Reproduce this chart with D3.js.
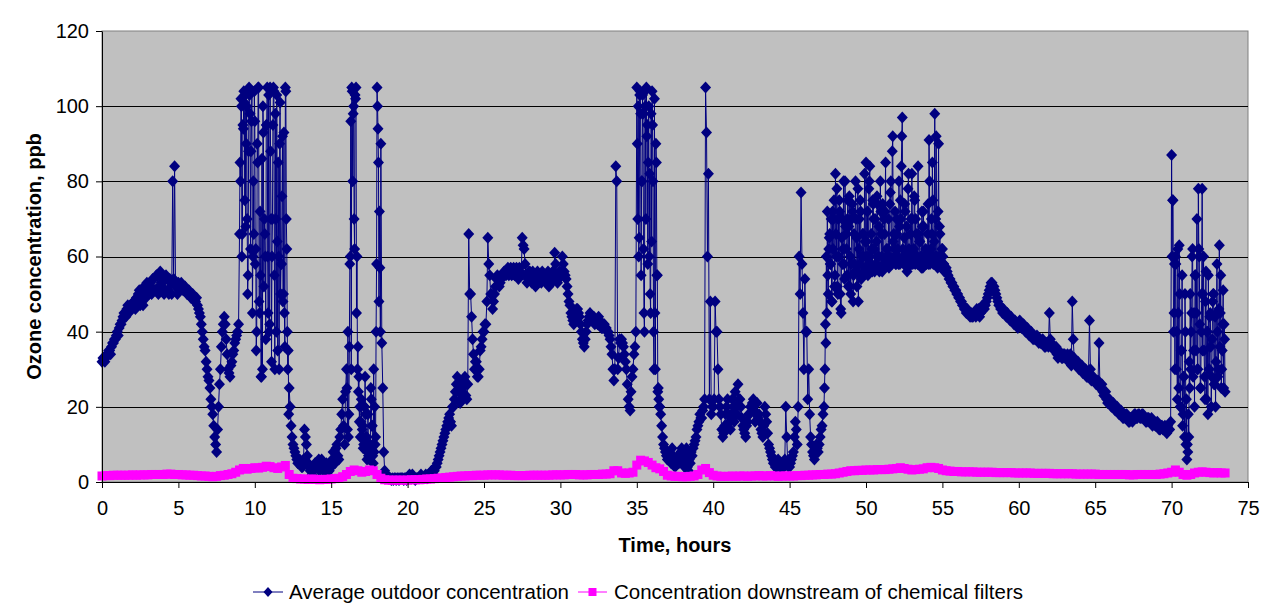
<!DOCTYPE html>
<html><head><meta charset="utf-8">
<script src="https://cdn.jsdelivr.net/npm/d3@7"></script>
<style>body{margin:0;background:#fff;} text{font-family:Arial,"Liberation Sans",sans-serif;}</style>
</head><body><svg id="c" width="1276" height="615"></svg>
<script>
// ---- data ----
const xTicks = [0,5,10,15,20,25,30,35,40,45,50,55,60,65,70,75];
const yTicks = [0,20,40,60,80,100,120];
const seriesNames = ["Average outdoor concentration","Concentration downstream of chemical filters"];
// outdoor ozone, readings every 0.125 h starting at t = 0 ...
const outdoorStep = 0.125;
const outdoorValues = [
32,33,33,34,35,36,37,38,
40,41,42,44,45,46,45,47,
47,48,49,50,47,51,52,49,
52,53,50,54,51,55,52,53,
54,51,54,50,53,80,84,52,
53,52,52,51,51,50,50,49,
49,48,47,45,42,38,35,30,
27,22,18,12,8,20,30,40,
44,38,30,28,32,35,38,40,
66,100,94,103,70,105,88,60,
96,40,105,55,30,70,95,45,
105,60,104,70,35,90,58,50,
105,40,25,15,10,8,6,5,
5,4,14,10,5,3,2,4,
5,4,3,6,5,4,2,3,
4,8,5,10,6,14,22,10,
30,12,60,104,70,105,36,20,
12,10,18,8,6,22,5,10,
105,48,90,25,3,2,1,1,
1,1,0.5,1,1,1,0.5,1,
1,2,1,1,0.5,1,1,2,
1,1,1,2,2,3,3,4,
6,8,10,12,14,16,18,15,
20,24,28,26,22,25,28,22,
66,50,38,30,32,28,35,38,
40,42,65,55,50,48,52,55,
52,54,55,56,56,55,57,56,
55,57,54,56,65,62,55,54,
56,53,55,52,56,54,53,55,
55,54,52,55,56,61,55,54,
55,60,56,54,50,47,44,42,
44,46,44,40,37,38,42,44,
44,43,42,43,44,42,41,42,
41,40,38,34,27,84,30,38,
38,36,32,26,20,24,30,36,
105,60,98,103,40,105,85,50,
104,30,90,24,20,15,10,8,
6,8,5,7,4,6,5,8,
6,4,9,3,5,7,10,12,
15,18,17,20,105,60,22,18,
20,48,40,22,18,12,15,20,
18,14,22,16,20,26,22,17,
14,12,16,18,20,22,16,21,
18,14,12,20,16,10,8,6,
5,4,6,3,5,4,20,5,
4,6,8,16,10,60,77,45,
54,40,30,12,8,6,10,8,
12,15,20,37,55,66,48,70,
82,52,75,45,62,80,55,68,
50,72,58,65,48,75,60,56,
85,55,84,62,70,58,74,56,
66,58,72,60,57,80,92,62,
70,58,75,97,65,60,78,58,
82,62,70,58,64,57,72,58,
60,91,62,75,98,60,90,58,
62,56,57,55,54,53,52,51,
50,49,48,47,46,46,45,45,
44,45,46,46,45,47,46,48,
50,52,53,52,50,48,47,46,
46,45,45,44,44,43,43,42,
42,42,41,41,40,40,39,39,
39,38,38,38,37,37,36,37,
45,37,36,35,34,35,34,33,
34,33,32,34,48,33,31,32,
30,31,29,30,28,43,27,28,
27,26,37,25,24,23,22,21,
21,20,20,19,19,18,18,17,
17,17,16,17,17,18,17,18,
17,18,17,16,17,16,15,16,
15,15,14,15,14,14,15,14,
87,40,60,22,63,35,18,50,
6,12,30,62,20,45,78,25,
78,35,56,18,44,28,50,20,
40,63,25,51,24
];
// ... the interleaved readings half a step later (t = 0.0625 + i * 0.125) ...
const outdoorOffset = 0.0625;
const outdoorValuesB = [
33,32,34,35,34,37,38,39,
39,42,43,45,44,47,46,46,
48,46,48,51,49,47,51,53,
50,52,54,51,55,50,56,52,
50,55,51,54,50,54,52,50,
52,53,51,52,50,51,49,50,
48,49,46,44,40,36,32,28,
25,20,15,10,14,26,36,42,
42,34,29,31,34,37,39,42,
80,66,101,90,55,98,104,66,
62,85,45,28,93,60,105,40,
70,95,30,103,60,50,92,45,
70,35,20,12,9,7,5,6,
4,6,12,7,4,3,3,5,
4,6,4,5,3,5,3,4,
6,5,9,7,12,18,15,24,
14,36,30,98,103,60,28,16,
15,20,12,7,10,15,8,40,
94,57,37,8,2,1,1,0.5,
0.5,1,1,0.5,1,1,1,0.5,
1,1,2,1,1,1,1,1,
1,2,1,2,3,2,4,5,
7,9,11,13,15,17,16,20,
22,26,24,21,24,27,23,26,
50,44,34,32,28,30,36,40,
42,48,58,50,46,50,54,54,
53,55,56,55,57,56,55,57,
56,55,57,55,63,58,53,56,
54,56,53,55,53,55,56,54,
53,56,54,53,55,58,53,56,
56,58,55,52,48,45,43,43,
46,45,42,38,36,40,43,45,
43,44,43,42,43,41,42,41,
40,39,36,30,30,80,33,37,
37,34,30,22,19,28,34,40,
70,103,80,62,100,95,60,98,
80,45,55,22,18,12,9,7,
7,6,9,6,5,7,6,9,
5,7,4,6,8,9,11,14,
16,17,19,22,93,82,48,20,
22,40,30,20,14,13,18,22,
16,18,20,24,18,22,20,15,
13,15,18,20,21,19,18,17,
16,13,15,18,13,9,7,5,
4,5,4,4,4,6,12,4,
5,7,12,14,20,50,58,30,
40,22,18,10,7,8,9,10,
14,18,30,45,62,58,72,52,
60,70,50,70,58,66,75,52,
70,55,80,56,70,54,66,64,
60,78,58,75,56,64,60,80,
56,70,60,62,74,58,66,58,
62,68,84,60,72,56,62,70,
58,75,60,66,58,68,60,60,
74,58,66,60,70,57,68,60,
58,57,56,54,53,52,51,50,
49,48,47,46,45,45,44,44,
45,44,45,44,46,46,47,49,
51,53,52,51,49,47,46,45,
45,44,44,43,43,42,42,41,
43,41,42,40,41,39,40,38,
38,39,37,37,38,36,37,36,
38,36,35,36,33,34,33,34,
33,34,33,31,38,32,32,30,
31,29,30,28,29,30,28,27,
26,27,25,26,23,24,21,22,
20,21,19,20,18,19,17,18,
18,16,17,16,18,17,18,17,
18,17,16,17,16,17,16,15,
16,14,15,14,15,13,14,16,
75,58,30,45,20,55,28,10,
8,25,45,35,55,30,60,40,
50,22,40,30,36,48,26,45,
30,45,35,42
];
// ... and extra readings during the gusty periods (every 0.0625 h, between the readings above)
const burstStep = 0.0625;
const burst1Start = 9.03125;
const burst1Values = [
85,102,60,95,104,75,68,100, 50,88,103,62,96,45,80,104,
58,35,90,105,48,72,28,86, 100,52,66,38,95,60,103,42,
88,32,70,105,55,98,40,64, 85,30,101,58,76,48,93,36,
104,62,30,18
];
const burst2Start = 16.03125;
const burst2Values = [
25,40,18,58,96,105,80,100, 62,102,45,30,24,16,12,22,
14,9,20,28,12,6,18,10, 8,25,15,7,30,20,12,58,
100,85,72,40
];
const burst3Start = 35.03125;
const burst3Values = [
90,100,65,104,55,80,98,45, 104,70,92,58,100,82,45,64,
95,40,102,30,85,55,25,20
];
const burst4Start = 47.28125;
const burst4Values = [
25,42,60,72,50,65,58,70,48,62,75,55,
66,78,50,60,72,46,65,58,80,54,68,62,70,52,76,60,
58,74,48,66,56,70,52,78,62,58,72,55,66,60,82,57,
64,72,58,80,60,66,56,74,62,70,58,76,60,68,57,72,
60,74,57,66,85,62,58,70,60,77,58,88,64,60,72,58,
66,60,80,58,70,92,62,58,74,60,68,57,82,60,66,58,
70,60,76,58,66,60,84,58,64,60,72,57,68,60,62,58,
66,58,80,60,70,85,58,64,60,92,58,72,60,66,58,62,
60,58,57,56
];
const burst5Start = 70.03125;
const burst5Values = [
60,75,45,30,58,40,62,25,50,20,35,15,28,12,40,22,
10,18,32,50,40,60,28,45,55,35,70,30,62,42,25,50,
35,60,28,48,22,40,55,30,45,20,38,50,26,44,32,58,
28,46,36,55,30,42,25,38
];
// downstream of chemical filters, one reading every 0.25 h starting at t = 0
const filterStep = 0.25;
const filterValues = [
1.6,1.7,1.7,1.8, 1.8,1.8,1.8,1.8, 1.9,1.8,1.9,1.9, 1.9,2.0,2.0,2.0,
2.0,2.1,2.1,2.0, 2.0,1.9,1.9,1.8, 1.8,1.7,1.6,1.6, 1.5,1.4,1.5,1.7,
1.8,2.0,2.2,2.6, 3.2,3.6,3.4,3.6, 3.8,3.7,3.9,4.2, 4.1,3.8,3.6,4.0,
4.4,2.0,1.0,0.9, 0.8,0.8,0.7,0.8, 0.7,0.6,0.7,0.7, 0.8,0.9,1.0,1.4,
2.0,2.8,3.2,3.0, 2.6,2.8,3.2,3.0, 2.0,1.0,0.6,0.5, 0.5,0.5,0.5,0.5,
0.5,0.6,0.6,0.6, 0.7,0.8,0.8,0.9, 1.0,1.1,1.2,1.3, 1.4,1.5,1.6,1.6,
1.7,1.7,1.8,1.8, 1.8,1.9,1.9,1.9, 1.9,1.8,1.8,1.8, 1.7,1.7,1.7,1.7,
1.8,1.8,1.8,1.8, 1.8,1.8,1.9,1.9, 1.9,1.9,2.0,2.0, 2.0,1.9,1.9,1.9,
2.0,2.0,2.0,2.1, 2.1,2.2,3.0,3.0, 2.4,2.3,2.4,2.6, 4.5,5.8,5.6,5.2,
4.5,3.8,3.5,2.8, 1.8,1.6,1.5,1.5, 1.4,1.4,1.5,1.6, 2.0,3.2,3.6,2.5,
1.8,1.6,1.5,1.5, 1.5,1.6,1.5,1.6, 1.6,1.5,1.6,1.6, 1.7,1.6,1.6,1.7,
1.6,1.5,1.6,1.6, 1.6,1.6,1.7,1.7, 1.8,1.8,1.9,1.9, 2.0,2.0,2.1,2.1,
2.2,2.4,2.6,2.8, 3.0,3.0,3.1,3.1, 3.2,3.2,3.2,3.3, 3.3,3.3,3.4,3.5,
3.6,3.8,3.6,3.4, 3.2,3.3,3.4,3.5, 3.8,3.9,3.8,3.6, 3.2,3.0,2.9,2.8,
2.8,2.7,2.7,2.7, 2.7,2.6,2.6,2.6, 2.6,2.6,2.5,2.5, 2.5,2.5,2.5,2.4,
2.4,2.4,2.4,2.4, 2.3,2.3,2.3,2.3, 2.3,2.2,2.2,2.2, 2.2,2.2,2.2,2.1,
2.1,2.1,2.1,2.1, 2.1,2.0,2.0,2.0, 2.0,2.0,2.0,2.0, 2.0,1.9,1.9,2.0,
2.0,2.0,2.0,2.0, 2.0,2.1,2.2,2.4, 2.6,3.2,2.6,2.0, 1.8,2.0,2.4,2.6,
2.7,2.6,2.5,2.4, 2.5,2.4,2.4
];

// ---- chart ----
const svg = d3.select("#c");
const L = 102, R = 1248, T = 31, B = 482;
const x = d3.scaleLinear().domain([0,75]).range([L,R]);
const y = d3.scaleLinear().domain([0,120]).range([B,T]);
const navy = "#000080", pink = "#FF00FF";

svg.append("rect").attr("x",L).attr("y",T).attr("width",R-L).attr("height",B-T)
  .attr("fill","#C0C0C0").attr("stroke","#808080").attr("stroke-width",1);

svg.append("g").selectAll("line").data(yTicks.filter(v=>v>0 && v<120)).join("line")
  .attr("x1",L).attr("x2",R).attr("y1",d=>Math.round(y(d))+0.5).attr("y2",d=>Math.round(y(d))+0.5)
  .attr("stroke","#000").attr("stroke-width",1);

const toPts = (vals, start, step) => vals.map((v,i)=>({t:start+i*step, v}));
const outdoor = [].concat(
  toPts(outdoorValues, 0, outdoorStep),
  toPts(outdoorValuesB, outdoorOffset, outdoorStep),
  toPts(burst1Values, burst1Start, burstStep),
  toPts(burst2Values, burst2Start, burstStep),
  toPts(burst3Values, burst3Start, burstStep),
  toPts(burst4Values, burst4Start, burstStep),
  toPts(burst5Values, burst5Start, burstStep)
).sort((a,b)=>a.t-b.t);
const filt = toPts(filterValues, 0, filterStep);
const line = d3.line().x(d=>x(d.t)).y(d=>y(d.v));
const diamond = "M0,-6L5.5,0L0,6L-5.5,0Z";

svg.append("path").datum(outdoor).attr("d",line).attr("fill","none").attr("stroke",navy).attr("stroke-width",1);
svg.append("g").selectAll("path").data(outdoor).join("path")
  .attr("d",diamond).attr("transform",d=>`translate(${x(d.t)},${y(d.v)})`).attr("fill",navy);

svg.append("path").datum(filt).attr("d",line).attr("fill","none").attr("stroke",pink).attr("stroke-width",1);
svg.append("g").selectAll("rect").data(filt).join("rect")
  .attr("x",d=>x(d.t)-4.5).attr("y",d=>y(d.v)-4.5).attr("width",9).attr("height",9).attr("fill",pink);

// axes
const yAxis = svg.append("g").attr("transform",`translate(${L},0)`)
  .call(d3.axisLeft(y).tickValues(yTicks).tickFormat(d3.format("d")).tickSize(6).tickSizeOuter(0).tickPadding(7));
const xAxis = svg.append("g").attr("transform",`translate(0,${B})`)
  .call(d3.axisBottom(x).tickValues(xTicks).tickFormat(d3.format("d")).tickSize(6).tickSizeOuter(0).tickPadding(13));
[xAxis,yAxis].forEach(g=>{
  g.selectAll("text").attr("font-size",20).attr("fill","#000").attr("font-family","Arial, 'Liberation Sans', sans-serif");
  g.selectAll("line").attr("stroke","#000");
  g.select(".domain").attr("stroke","#000");
});

// titles
svg.append("text").attr("x",(L+R)/2).attr("y",552).attr("text-anchor","middle")
  .attr("font-size",20).attr("font-weight","bold").text("Time, hours");
svg.append("text").attr("transform",`translate(41,${(T+B)/2}) rotate(-90)`).attr("text-anchor","middle")
  .attr("font-size",20).attr("font-weight","bold").text("Ozone concentration, ppb");

// legend
const ly = 592;
const lg = svg.append("g");
const e1 = lg.append("g");
e1.append("line").attr("x1",253).attr("x2",283).attr("y1",ly).attr("y2",ly).attr("stroke",navy);
e1.append("path").attr("d","M0,-5L4.5,0L0,5L-4.5,0Z").attr("transform",`translate(268,${ly})`).attr("fill",navy);
const t1 = e1.append("text").attr("x",289).attr("y",ly+7).attr("font-size",20.5).text(seriesNames[0]);
let lx = 289 + t1.node().getComputedTextLength() + 9;
const e2 = lg.append("g");
e2.append("line").attr("x1",lx).attr("x2",lx+29).attr("y1",ly).attr("y2",ly).attr("stroke",pink);
e2.append("rect").attr("x",lx+10.5).attr("y",ly-4).attr("width",8).attr("height",8).attr("fill",pink);
e2.append("text").attr("x",lx+36).attr("y",ly+7).attr("font-size",20.5).text(seriesNames[1]);
</script></body></html>
